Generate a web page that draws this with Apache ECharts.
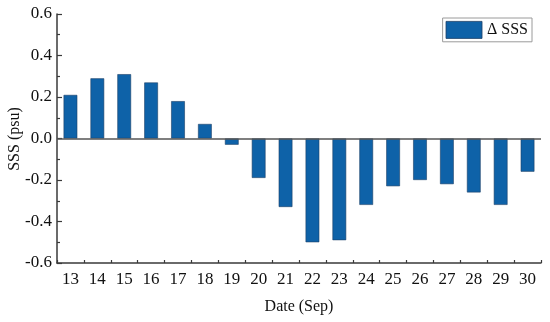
<!DOCTYPE html>
<html>
<head>
<meta charset="utf-8">
<script src="https://cdn.jsdelivr.net/npm/echarts@6/dist/echarts.min.js"></script>
<style>html,body{margin:0;padding:0;background:#fff}#c{width:550px;height:322px}</style>
</head>
<body>
<div id="c"></div>
<script>
const categories = ['13','14','15','16','17','18','19','20','21','22','23','24','25','26','27','28','29','30'];
const deltaSSS = [0.21, 0.29, 0.31, 0.27, 0.18, 0.07, -0.03, -0.19, -0.33, -0.50, -0.49, -0.32, -0.23, -0.20, -0.22, -0.26, -0.32, -0.16];
const seriesName = 'Δ SSS';
const xName = 'Date (Sep)';
const yName = 'SSS (psu)';
const boundaries = Array.from({length: categories.length + 1}, (_, i) => String(i));

const font = 'Liberation Serif';
const axisColor = '#3a3a3a';
const chart = echarts.init(document.getElementById('c'));
chart.setOption({
  animation: false,
  backgroundColor: '#fff',
  grid: {left: 57, right: 9, top: 14, bottom: 59, containLabel: false, outerBoundsMode: 'none'},
  legend: {
    data: [{name: seriesName, icon: 'rect'}], right: 18, top: 18, itemWidth: 36, itemHeight: 17, itemGap: 4,
    padding: [3, 4, 3, 3], borderColor: '#9a9a9a', borderWidth: 1,
    textStyle: {fontFamily: font, fontSize: 16, color: '#111', padding: [0, 0, 0, 0]},
    itemStyle: {borderColor: '#1c3f66', borderWidth: 0.8}
  },
  graphic: [{
    type: 'text', x: 15, y: 139, rotation: Math.PI / 2,
    style: {text: yName, fontFamily: font, fontSize: 16, fill: '#111', align: 'center', verticalAlign: 'middle'}
  }],
  xAxis: [{
    type: 'category', data: categories, position: 'bottom',
    name: xName, nameLocation: 'middle', nameGap: 36,
    nameTextStyle: {fontFamily: font, fontSize: 16, color: '#111'},
    axisLine: {onZero: false, lineStyle: {color: axisColor, width: 1.5}},
    axisTick: {alignWithLabel: true, inside: true, length: 5, lineStyle: {color: axisColor, width: 1.2}},
    axisLabel: {fontFamily: font, fontSize: 17, color: '#111', margin: 8, interval: 0},
    splitLine: {show: false}
  }, {
    type: 'category', data: boundaries, boundaryGap: false, position: 'bottom',
    axisLine: {show: false, onZero: false},
    axisTick: {inside: true, length: 3, interval: 0, lineStyle: {color: axisColor, width: 1.2}},
    axisLabel: {show: false}, splitLine: {show: false}
  }],
  yAxis: {
    type: 'value', min: -0.6, max: 0.6, interval: 0.2,
    axisLine: {show: true, lineStyle: {color: axisColor, width: 1.5}},
    axisTick: {show: true, inside: true, length: 5, lineStyle: {color: axisColor, width: 1.2}},
    minorTick: {show: true, splitNumber: 2, length: 3, lineStyle: {color: axisColor, width: 1.2}},
    axisLabel: {fontFamily: font, fontSize: 17, color: '#111', margin: 5, formatter: v => v.toFixed(1)},
    splitLine: {show: false}
  },
  series: [{
    name: seriesName, type: 'bar', data: deltaSSS, barWidth: '51%',
    itemStyle: {color: '#0e62a8', borderColor: '#1c3f66', borderWidth: 0.6},
    markLine: {
      silent: true, symbol: 'none', label: {show: false},
      lineStyle: {color: '#555', width: 1.5, type: 'solid'},
      data: [{yAxis: 0}]
    }
  }]
});
</script>
</body>
</html>
